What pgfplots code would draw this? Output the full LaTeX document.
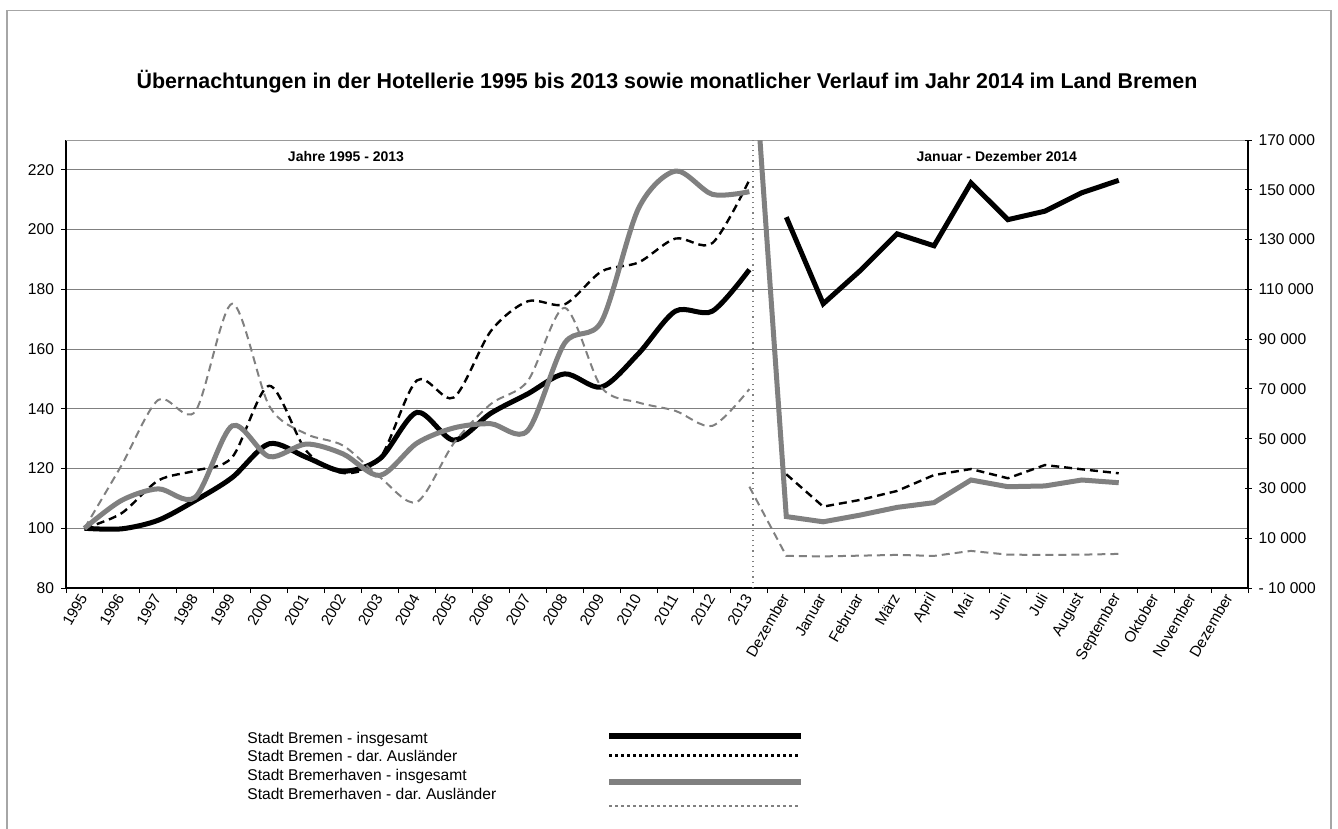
\documentclass[border=0pt]{standalone}
\usepackage{pgfplots}
\pgfplotsset{compat=1.18}
\usepackage{fontspec}
\setmainfont{Liberation Sans}
\frenchspacing
\definecolor{bhgray}{HTML}{808080}
\definecolor{gridgray}{HTML}{808080}

\pgfplotstableread{
x y
0 100
1 99.8
2 102.7
3 109.3
4 117.0
5 128.3
6 123.8
7 119.1
8 123.3
9 138.8
10 129.5
11 138.5
12 145.0
13 151.7
14 147.3
15 158.5
16 172.7
17 172.7
18 186.6
}\bbins
\pgfplotstableread{
x y
0 100
1 105
2 116
3 119.3
4 123.8
5 147.7
6 126
7 118.5
8 123.5
9 149.5
10 143.8
11 166
12 176
13 175
14 186
15 189
16 197
17 195.5
18 216.6
}\bbaus
\pgfplotstableread{
x y
0 100
1 109.3
2 113.2
3 110.4
4 134.3
5 124
6 128.2
7 124.9
8 117.7
9 128.5
10 133.6
11 135
12 132.7
13 162
14 169.3
15 207.1
16 219.6
17 211.8
18 212.7
}\bhins
\pgfplotstableread{
x y
0 100
1 121
2 143
3 139.1
4 175.2
5 141
6 131.6
7 127.7
8 117.1
9 108.8
10 128.5
11 141.6
12 149.3
13 173.8
14 147.1
15 142.1
16 139.3
17 134.3
18 146.6
}\bhaus
\pgfplotstableread{
x y
19 139000
20 104200
21 117500
22 132300
23 127500
24 152800
25 138000
26 141400
27 148800
28 153800
}\mbbins
\pgfplotstableread{
x y
19 35700
20 22700
21 25400
22 29000
23 35400
24 37800
25 34100
26 39400
27 37700
28 36100
}\mbbaus
\pgfplotstableread{
x y
18 231000
19 18700
20 16600
21 19300
22 22400
23 24300
24 33400
25 30700
26 31000
27 33400
28 32300
}\mbhins
\pgfplotstableread{
x y
18 30700
19 2900
20 2700
21 3000
22 3300
23 2900
24 4900
25 3400
26 3300
27 3400
28 3700
}\mbhaus

\begin{document}
\begin{tikzpicture}
\path[use as bounding box] (0,0) rectangle (669pt,-414.5pt);
\draw[gray!70, line width=0.6pt] (3.5pt,-420pt) -- (3.5pt,-5.3pt) -- (665.5pt,-5.3pt) -- (665.5pt,-420pt);
\node[font=\fontsize{10.7}{12}\selectfont\bfseries] at (333.5pt,-41pt) {Übernachtungen in der Hotellerie 1995 bis 2013 sowie monatlicher Verlauf im Jahr 2014 im Land Bremen};

\begin{axis}[
  at={(33pt,-294pt)}, anchor=south west,
  scale only axis, width=591pt, height=224pt,
  xmin=-0.5, xmax=31.5, ymin=80, ymax=230,
  axis x line*=bottom, axis y line*=left,
  axis line style={black, line width=0.9pt},
  every inner x axis line/.append style={-}, every inner y axis line/.append style={-},
  xtick={0,...,31},
  xticklabels={1995,1996,1997,1998,1999,2000,2001,2002,2003,2004,2005,2006,2007,2008,2009,2010,2011,2012,2013,Dezember,Januar,Februar,März,April,Mai,Juni,Juli,August,September,Oktober,November,Dezember},
  minor xtick={-0.5,0.5,...,31.5},
  tick align=outside,
  major tick length=2.5pt, minor tick length=2.5pt,
  x tick style={draw=none}, minor x tick style={draw=black, line width=0.5pt},
  y tick style={black, line width=0.5pt},
  xticklabel style={rotate=60, anchor=east, font=\fontsize{7.6}{9}\selectfont, inner sep=1pt},
  ytick={80,100,...,220},
  yticklabels={80,100,120,140,160,180,200,220},
  yticklabel style={font=\fontsize{7.8}{9}\selectfont},
  scaled y ticks=false,
  ymajorgrids, major grid style={gridgray, line width=0.5pt},
  clip=true,
]
\draw[gray!80, line width=0.6pt] (rel axis cs:0,1) -- (rel axis cs:1,1);
\addplot[black, line width=2.5pt, smooth] table {\bbins};
\addplot[black, line width=1.2pt, dash pattern=on 4pt off 2.5pt, smooth] table {\bbaus};
\addplot[bhgray, line width=2.5pt, smooth] table {\bhins};
\addplot[bhgray, line width=1pt, dash pattern=on 4pt off 2.5pt, smooth] table {\bhaus};
\draw[gray, dotted, line width=0.6pt] (axis cs:18.1,80) -- (axis cs:18.1,230);
\node[font=\fontsize{7}{8}\selectfont\bfseries] at (axis cs:7.08,224.5) {Jahre 1995 - 2013};
\node[font=\fontsize{7}{8}\selectfont\bfseries] at (axis cs:24.7,224.5) {Januar - Dezember 2014};
\end{axis}

\begin{axis}[
  at={(33pt,-294pt)}, anchor=south west,
  scale only axis, width=591pt, height=224pt,
  xmin=-0.5, xmax=31.5, ymin=-10000, ymax=170000,
  axis x line=none, axis y line*=right,
  axis line style={black, line width=0.9pt},
  every inner y axis line/.append style={-},
  ytick={-10000,10000,...,170000},
  yticklabels={- 10 000,10 000,30 000,50 000,70 000,90 000,110 000,130 000,150 000,170 000},
  yticklabel style={font=\fontsize{7.8}{9}\selectfont},
  scaled y ticks=false,
  tick align=center, major tick length=3.5pt,
  y tick style={black, line width=0.5pt},
  clip=true,
]
\addplot[black, line width=2.5pt] table {\mbbins};
\addplot[black, line width=1.2pt, dash pattern=on 4pt off 2.5pt] table {\mbbaus};
\addplot[bhgray, line width=2.5pt] table {\mbhins};
\addplot[bhgray, line width=1pt, dash pattern=on 4pt off 2.5pt] table {\mbhaus};
\end{axis}

% legend
\begin{scope}[every node/.style={font=\fontsize{7.8}{9}\selectfont, anchor=base west, inner sep=0pt}]
\node at (123.5pt,-371.8pt) {Stadt Bremen - insgesamt};
\node at (123.5pt,-380.8pt) {Stadt Bremen - dar. Ausländer};
\node at (123.5pt,-390.3pt) {Stadt Bremerhaven - insgesamt};
\node at (123.5pt,-399.8pt) {Stadt Bremerhaven - dar. Ausländer};
\end{scope}
\draw[black, line width=3pt] (304.5pt,-368pt) -- (400.5pt,-368pt);
\draw[black, line width=1.5pt, dash pattern=on 1.5pt off 1.5pt] (304.5pt,-377.5pt) -- (400.5pt,-377.5pt);
\draw[bhgray, line width=3pt] (304.5pt,-391pt) -- (400.5pt,-391pt);
\draw[bhgray, line width=1pt, dash pattern=on 1.5pt off 1.5pt] (304.5pt,-403pt) -- (400.5pt,-403pt);
\end{tikzpicture}
\end{document}
